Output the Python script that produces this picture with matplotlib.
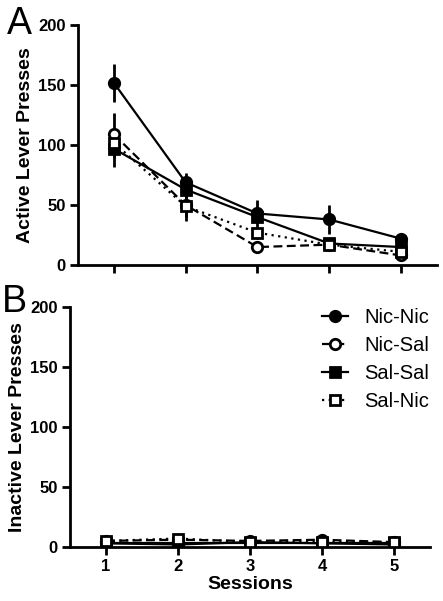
import matplotlib.pyplot as plt
import numpy as np

plt.rcParams['font.family'] = ['Liberation Sans', 'DejaVu Sans']

# Sessions and group names
sessions = [1, 2, 3, 4, 5]
groups = ['Nic-Nic', 'Nic-Sal', 'Sal-Sal', 'Sal-Nic']

# Panel A: active lever presses (mean, sem)
active_nic_nic = [152, 69, 43, 38, 22]
active_nic_sal = [109, 50, 15, 17, 8]
active_sal_sal = [97, 63, 40, 18, 15]
active_sal_nic = [102, 49, 27, 17, 11]
active_nic_nic_err = [16, 8, 11, 12, 5]
active_nic_sal_err = [18, 10, 3, 3, 2]
active_sal_sal_err = [15, 6, 5, 3, 3]
active_sal_nic_err = [12, 12, 5, 3, 3]

# Panel B: inactive lever presses (mean, sem)
inactive_nic_nic = [3, 2, 4, 3, 2]
inactive_nic_sal = [5, 6, 5, 6, 4]
inactive_sal_sal = [3, 3, 3, 3, 3]
inactive_sal_nic = [5, 7, 4, 4, 4]
inactive_nic_nic_err = [1, 1, 1, 1, 1]
inactive_nic_sal_err = [1, 1, 1, 1, 1]
inactive_sal_sal_err = [1, 1, 1, 1, 1]
inactive_sal_nic_err = [1, 1, 1, 1, 1]

# style per group: marker, fill, linestyle
styles = {
    'Nic-Nic': dict(marker='o', mfc='black', ls='-'),
    'Nic-Sal': dict(marker='o', mfc='white', ls=(0, (4, 2))),
    'Sal-Sal': dict(marker='s', mfc='black', ls='-'),
    'Sal-Nic': dict(marker='s', mfc='white', ls=(0, (1, 2))),
}

active = {'Nic-Nic': (active_nic_nic, active_nic_nic_err),
          'Nic-Sal': (active_nic_sal, active_nic_sal_err),
          'Sal-Sal': (active_sal_sal, active_sal_sal_err),
          'Sal-Nic': (active_sal_nic, active_sal_nic_err)}
inactive = {'Nic-Nic': (inactive_nic_nic, inactive_nic_nic_err),
            'Nic-Sal': (inactive_nic_sal, inactive_nic_sal_err),
            'Sal-Sal': (inactive_sal_sal, inactive_sal_sal_err),
            'Sal-Nic': (inactive_sal_nic, inactive_sal_nic_err)}

fig = plt.figure(figsize=(4.43, 6.01), dpi=100)
axA = fig.add_axes([0.176, 0.559, 0.810, 0.399])
axB = fig.add_axes([0.158, 0.090, 0.813, 0.399])


def draw_panel(ax, data, ylabel):
    handles = []
    for g in groups:
        vals, err = data[g]
        st = styles[g]
        ax.errorbar(sessions, vals, yerr=err, fmt='none', ecolor='black',
                    elinewidth=2, capsize=0, zorder=2)
        h, = ax.plot(sessions, vals, color='black', lw=1.6, ls=st['ls'],
                     marker=st['marker'], ms=7.5, mfc=st['mfc'], mec='black',
                     mew=2, label=g, zorder=3)
        handles.append(h)
    ax.set_xlim(0.5, 5.5)
    ax.set_ylim(0, 200)
    ax.set_yticks([0, 50, 100, 150, 200])
    ax.set_xticks(sessions)
    for s in ['top', 'right']:
        ax.spines[s].set_visible(False)
    for s in ['left', 'bottom']:
        ax.spines[s].set_linewidth(2)
    ax.tick_params(direction='out', length=6, width=2, labelsize=12, pad=3)
    for lab in ax.get_xticklabels() + ax.get_yticklabels():
        lab.set_fontweight('bold')
    ax.set_ylabel(ylabel, fontsize=14, fontweight='bold', labelpad=3)
    return handles


draw_panel(axA, active, 'Active Lever Presses')
axA.set_xticklabels([])
handles = draw_panel(axB, inactive, 'Inactive Lever Presses')
axB.set_xlabel('Sessions', fontsize=14, fontweight='bold', labelpad=1)

axB.legend(handles=handles, loc='upper right', frameon=False, fontsize=14.5,
           handlelength=1.3, handletextpad=0.8, labelspacing=0.45,
           bbox_to_anchor=(1.048, 1.072))

fig.text(0.015, 0.99, 'A', fontsize=27, va='top', ha='left')
fig.text(0.005, 0.527, 'B', fontsize=27, va='top', ha='left')

fig.savefig('out.png', dpi=100)
